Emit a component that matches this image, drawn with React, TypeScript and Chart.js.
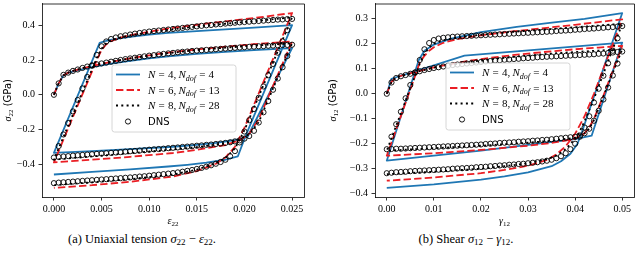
import React, { useEffect, useRef } from "react";
import { Chart, registerables } from "chart.js";

Chart.register(...registerables);

// ---------------- Uniaxial tension (sigma22 - eps22) ----------------
const TENSION_STRAIN_GRID = [0, 0.0005, 0.001, 0.0015, 0.002, 0.0025, 0.003, 0.0035, 0.004, 0.0045, 0.005, 0.0055, 0.006, 0.0065, 0.007, 0.0075, 0.008, 0.0085, 0.009, 0.0095, 0.01, 0.0105, 0.011, 0.0115, 0.012, 0.0125, 0.013, 0.0135, 0.014, 0.0145, 0.015, 0.0155, 0.016, 0.0165, 0.017, 0.0175, 0.018, 0.0185, 0.019, 0.0195, 0.02, 0.0205, 0.021, 0.0215, 0.022, 0.0225, 0.023, 0.0235, 0.024, 0.0245, 0.025];

// DNS stress, loading 1 (0 -> 0.025)
const DNS_T_LOAD1 = [0, 0.066, 0.115, 0.128, 0.138, 0.146, 0.155, 0.163, 0.17, 0.176, 0.181, 0.186, 0.191, 0.196, 0.201, 0.206, 0.21, 0.214, 0.218, 0.222, 0.226, 0.229, 0.233, 0.236, 0.239, 0.242, 0.245, 0.248, 0.25, 0.253, 0.255, 0.257, 0.259, 0.261, 0.263, 0.265, 0.267, 0.269, 0.271, 0.273, 0.275, 0.277, 0.278, 0.28, 0.281, 0.283, 0.284, 0.286, 0.287, 0.288, 0.289];
// DNS stress, unloading 1 (0.0245 -> 0)
const DNS_T_UNLOAD1 = [0.224, 0.159, 0.094, 0.029, -0.036, -0.101, -0.16, -0.208, -0.238, -0.253, -0.263, -0.269, -0.274, -0.278, -0.281, -0.284, -0.287, -0.289, -0.292, -0.294, -0.297, -0.299, -0.301, -0.304, -0.306, -0.308, -0.311, -0.313, -0.315, -0.317, -0.32, -0.322, -0.324, -0.326, -0.328, -0.331, -0.333, -0.335, -0.337, -0.339, -0.341, -0.343, -0.345, -0.347, -0.349, -0.351, -0.354, -0.356, -0.359, -0.362];
// DNS stress, reloading (0.0005 -> 0.025)
const DNS_T_LOAD2 = [-0.296, -0.229, -0.163, -0.096, -0.03, 0.037, 0.103, 0.168, 0.23, 0.28, 0.308, 0.322, 0.331, 0.338, 0.343, 0.348, 0.353, 0.357, 0.361, 0.365, 0.368, 0.371, 0.374, 0.377, 0.38, 0.383, 0.386, 0.389, 0.392, 0.395, 0.398, 0.401, 0.403, 0.406, 0.408, 0.411, 0.413, 0.416, 0.418, 0.42, 0.422, 0.424, 0.426, 0.428, 0.43, 0.432, 0.434, 0.435, 0.437, 0.438];
// DNS stress, unloading 2 (0.0245 -> 0)
const DNS_T_UNLOAD2 = [0.373, 0.308, 0.243, 0.178, 0.113, 0.048, -0.017, -0.082, -0.147, -0.212, -0.275, -0.325, -0.355, -0.375, -0.388, -0.398, -0.407, -0.415, -0.422, -0.428, -0.434, -0.439, -0.444, -0.448, -0.452, -0.455, -0.458, -0.461, -0.464, -0.467, -0.47, -0.472, -0.475, -0.477, -0.479, -0.481, -0.483, -0.485, -0.487, -0.489, -0.491, -0.493, -0.495, -0.497, -0.499, -0.501, -0.503, -0.505, -0.507, -0.51];

const N4_T_STRAIN = [0, 0.0005, 0.001, 0.0015, 0.002, 0.004, 0.006, 0.008, 0.01, 0.012, 0.015, 0.018, 0.021, 0.024, 0.025, 0.0203, 0.019, 0.017, 0.015, 0.0125, 0.008, 0.004, 0, 0.0048, 0.0055, 0.0065, 0.008, 0.01, 0.012, 0.015, 0.018, 0.021, 0.025, 0.0201, 0.0193, 0.018, 0.016, 0.014, 0.012, 0.008, 0.004, 0];
const N4_T_STRESS = [0, 0.066, 0.112, 0.127, 0.135, 0.16, 0.18, 0.196, 0.21, 0.222, 0.236, 0.248, 0.258, 0.266, 0.269, -0.245, -0.262, -0.278, -0.289, -0.3, -0.314, -0.325, -0.335, 0.3, 0.312, 0.323, 0.335, 0.347, 0.358, 0.368, 0.378, 0.388, 0.402, -0.24, -0.356, -0.375, -0.392, -0.404, -0.414, -0.43, -0.445, -0.46];

const N6_T_STRAIN = [0, 0.0005, 0.001, 0.0015, 0.002, 0.003, 0.004, 0.006, 0.008, 0.01, 0.012, 0.015, 0.018, 0.021, 0.024, 0.025, 0.0215, 0.0205, 0.0195, 0.018, 0.015, 0.0125, 0.008, 0.004, 0, 0.0045, 0.005, 0.0055, 0.006, 0.007, 0.008, 0.01, 0.012, 0.015, 0.018, 0.021, 0.025, 0.02, 0.019, 0.018, 0.017, 0.015, 0.0125, 0.008, 0.004, 0];
const N6_T_STRESS = [0, 0.066, 0.112, 0.128, 0.138, 0.153, 0.166, 0.19, 0.21, 0.228, 0.243, 0.262, 0.278, 0.292, 0.304, 0.308, -0.14, -0.225, -0.262, -0.29, -0.318, -0.336, -0.358, -0.375, -0.39, 0.2, 0.258, 0.292, 0.31, 0.33, 0.344, 0.364, 0.383, 0.404, 0.424, 0.443, 0.472, -0.19, -0.3, -0.362, -0.398, -0.44, -0.472, -0.502, -0.522, -0.537];

const N8_T_STRAIN = [0, 0.0005, 0.001, 0.0015, 0.002, 0.003, 0.004, 0.006, 0.008, 0.01, 0.012, 0.015, 0.018, 0.021, 0.024, 0.025, 0.0215, 0.0205, 0.0195, 0.018, 0.015, 0.0125, 0.008, 0.004, 0, 0.0045, 0.005, 0.0055, 0.006, 0.007, 0.008, 0.01, 0.012, 0.015, 0.018, 0.021, 0.025, 0.02, 0.019, 0.018, 0.017, 0.015, 0.0125, 0.008, 0.004, 0];
const N8_T_STRESS = [0, 0.066, 0.112, 0.128, 0.138, 0.154, 0.168, 0.191, 0.21, 0.226, 0.24, 0.258, 0.272, 0.284, 0.294, 0.297, -0.158, -0.228, -0.258, -0.28, -0.302, -0.316, -0.337, -0.356, -0.374, 0.212, 0.266, 0.297, 0.315, 0.332, 0.343, 0.36, 0.375, 0.394, 0.41, 0.425, 0.447, -0.204, -0.31, -0.365, -0.395, -0.432, -0.46, -0.487, -0.505, -0.522];

const TENSION_X_TICKS = [0, 0.005, 0.01, 0.015, 0.02, 0.025];
const TENSION_Y_TICKS = [-0.4, -0.2, 0, 0.2, 0.4];

// ---------------- Shear (sigma12 - gamma12) ----------------
const SHEAR_STRAIN_GRID = [0, 0.001, 0.002, 0.003, 0.004, 0.005, 0.006, 0.007, 0.008, 0.009, 0.01, 0.011, 0.012, 0.013, 0.014, 0.015, 0.016, 0.017, 0.018, 0.019, 0.02, 0.021, 0.022, 0.023, 0.024, 0.025, 0.026, 0.027, 0.028, 0.029, 0.03, 0.031, 0.032, 0.033, 0.034, 0.035, 0.036, 0.037, 0.038, 0.039, 0.04, 0.041, 0.042, 0.043, 0.044, 0.045, 0.046, 0.047, 0.048, 0.049, 0.05];

const DNS_S_LOAD1 = [0, 0.045, 0.063, 0.07, 0.075, 0.08, 0.085, 0.09, 0.095, 0.099, 0.103, 0.106, 0.109, 0.112, 0.115, 0.117, 0.119, 0.121, 0.123, 0.125, 0.127, 0.129, 0.131, 0.133, 0.134, 0.136, 0.137, 0.139, 0.14, 0.142, 0.143, 0.144, 0.146, 0.147, 0.148, 0.149, 0.15, 0.151, 0.152, 0.153, 0.154, 0.155, 0.156, 0.157, 0.158, 0.16, 0.161, 0.163, 0.165, 0.167, 0.169];
const DNS_S_UNLOAD1 = [0.121, 0.073, 0.025, -0.023, -0.068, -0.108, -0.14, -0.158, -0.167, -0.172, -0.174, -0.176, -0.178, -0.18, -0.182, -0.184, -0.185, -0.187, -0.188, -0.19, -0.191, -0.192, -0.194, -0.195, -0.196, -0.197, -0.199, -0.2, -0.201, -0.203, -0.204, -0.205, -0.206, -0.207, -0.208, -0.209, -0.21, -0.211, -0.212, -0.213, -0.214, -0.215, -0.216, -0.217, -0.218, -0.219, -0.22, -0.22, -0.221, -0.222];
const DNS_S_LOAD2 = [-0.172, -0.122, -0.072, -0.018, 0.035, 0.085, 0.135, 0.178, 0.203, 0.215, 0.221, 0.224, 0.226, 0.228, 0.229, 0.23, 0.231, 0.232, 0.233, 0.234, 0.235, 0.236, 0.237, 0.238, 0.239, 0.24, 0.241, 0.242, 0.243, 0.244, 0.245, 0.246, 0.247, 0.248, 0.249, 0.251, 0.252, 0.253, 0.254, 0.256, 0.257, 0.259, 0.26, 0.261, 0.263, 0.264, 0.266, 0.267, 0.269, 0.271];
const DNS_S_UNLOAD2 = [0.222, 0.172, 0.122, 0.072, 0.02, -0.035, -0.09, -0.135, -0.172, -0.2, -0.222, -0.238, -0.25, -0.258, -0.264, -0.268, -0.271, -0.274, -0.276, -0.278, -0.28, -0.281, -0.283, -0.284, -0.286, -0.287, -0.289, -0.29, -0.292, -0.293, -0.294, -0.296, -0.297, -0.298, -0.299, -0.3, -0.302, -0.303, -0.304, -0.305, -0.306, -0.307, -0.308, -0.309, -0.31, -0.312, -0.313, -0.314, -0.316, -0.318];

const N4_S_STRAIN = [0, 0.001, 0.0165, 0.05, 0.0435, 0.04, 0.03, 0.02, 0.01, 0, 0.0068, 0.008, 0.01, 0.0137, 0.02, 0.0276, 0.0346, 0.042, 0.05, 0.0415, 0.0405, 0.039, 0.037, 0.035, 0.03, 0.025, 0.02, 0.01, 0];
const N4_S_STRESS = [0, 0.06, 0.153, 0.205, -0.168, -0.182, -0.205, -0.228, -0.248, -0.268, 0.135, 0.172, 0.197, 0.221, 0.247, 0.268, 0.284, 0.3, 0.323, -0.15, -0.2, -0.24, -0.27, -0.29, -0.315, -0.331, -0.344, -0.363, -0.377];

const N6_S_STRAIN = [0, 0.001, 0.002, 0.004, 0.007, 0.01, 0.015, 0.02, 0.025, 0.03, 0.035, 0.04, 0.045, 0.05, 0.046, 0.044, 0.043, 0.042, 0.04, 0.035, 0.03, 0.02, 0.01, 0, 0.006, 0.007, 0.008, 0.009, 0.01, 0.012, 0.015, 0.02, 0.025, 0.03, 0.035, 0.04, 0.045, 0.05, 0.046, 0.044, 0.042, 0.04, 0.038, 0.036, 0.034, 0.03, 0.025, 0.02, 0.01, 0];
const N6_S_STRESS = [0, 0.048, 0.066, 0.077, 0.092, 0.106, 0.124, 0.139, 0.151, 0.161, 0.17, 0.178, 0.185, 0.192, -0.008, -0.1, -0.135, -0.158, -0.18, -0.197, -0.208, -0.225, -0.238, -0.248, 0.07, 0.125, 0.152, 0.172, 0.186, 0.204, 0.219, 0.234, 0.246, 0.256, 0.266, 0.276, 0.287, 0.298, 0.1, 0, -0.09, -0.16, -0.21, -0.243, -0.265, -0.288, -0.305, -0.318, -0.335, -0.348];

const N8_S_STRAIN = [0, 0.001, 0.002, 0.004, 0.007, 0.01, 0.015, 0.02, 0.025, 0.03, 0.035, 0.04, 0.045, 0.05, 0.046, 0.044, 0.043, 0.042, 0.04, 0.035, 0.03, 0.02, 0.01, 0, 0.005, 0.006, 0.007, 0.008, 0.009, 0.01, 0.012, 0.015, 0.02, 0.025, 0.03, 0.035, 0.04, 0.045, 0.05, 0.046, 0.044, 0.042, 0.041, 0.04, 0.038, 0.036, 0.034, 0.03, 0.025, 0.02, 0.01, 0];
const N8_S_STRESS = [0, 0.047, 0.065, 0.076, 0.091, 0.104, 0.12, 0.133, 0.144, 0.153, 0.161, 0.167, 0.173, 0.178, -0.01, -0.105, -0.14, -0.158, -0.176, -0.188, -0.196, -0.208, -0.218, -0.228, 0.022, 0.07, 0.12, 0.16, 0.185, 0.2, 0.214, 0.225, 0.236, 0.245, 0.252, 0.259, 0.266, 0.273, 0.28, 0.08, -0.02, -0.11, -0.15, -0.18, -0.222, -0.248, -0.262, -0.278, -0.29, -0.3, -0.312, -0.322];

const SHEAR_X_TICKS = [0, 0.01, 0.02, 0.03, 0.04, 0.05];
const SHEAR_Y_TICKS = [-0.4, -0.3, -0.2, -0.1, 0, 0.1, 0.2, 0.3];

// legend labels
const LEGEND_N = ["4", "6", "8"];
const LEGEND_NDOF = ["4", "13", "28"];

// ---------------- styling ----------------
const SERIF = '"Liberation Serif", "DejaVu Serif", serif';
const SANS = '"DejaVu Sans", sans-serif';
const BLUE = "#1f77b4";
const RED = "#ea1e24";
const BLACK = "#000000";

type Pt = { x: number; y: number };
type Run = { t: string; f: string; dy?: number; gap?: number };

function zipPts(xs: number[], ys: number[]): Pt[] {
  return xs.map((x, i) => ({ x, y: ys[i] }));
}

function loopPath(grid: number[], a: number[], b: number[], c: number[], d: number[]): Pt[] {
  const n = grid.length;
  const pts: Pt[] = [];
  a.forEach((y, i) => pts.push({ x: grid[i], y }));
  b.forEach((y, i) => pts.push({ x: grid[n - 2 - i], y }));
  c.forEach((y, i) => pts.push({ x: grid[i + 1], y }));
  d.forEach((y, i) => pts.push({ x: grid[n - 2 - i], y }));
  return pts;
}

function runsWidth(ctx: CanvasRenderingContext2D, runs: Run[]) {
  let w = 0;
  for (const r of runs) {
    ctx.font = r.f;
    w += ctx.measureText(r.t).width + (r.gap || 0);
  }
  return w;
}

function drawRuns(ctx: CanvasRenderingContext2D, runs: Run[], x: number, y: number, align: "left" | "center") {
  const w = runsWidth(ctx, runs);
  let cx = align === "center" ? x - w / 2 : x;
  ctx.textAlign = "left";
  ctx.textBaseline = "alphabetic";
  for (const r of runs) {
    ctx.font = r.f;
    if (r.t) ctx.fillText(r.t, cx, y + (r.dy || 0));
    cx += ctx.measureText(r.t).width + (r.gap || 0);
  }
}

const F_IT = `italic 10px ${SERIF}`;
const F_SUB = `7px ${SERIF}`;
const L_IT = `italic 11px ${SERIF}`;
const L_RM = `11px ${SERIF}`;
const L_SUB_IT = `italic 8px ${SERIF}`;
const G = 3.2;

function legendRuns(i: number): Run[] {
  return [
    { t: "N", f: L_IT, gap: G },
    { t: "=", f: L_RM, gap: G },
    { t: `${LEGEND_N[i]},`, f: L_RM, gap: 2.2 },
    { t: "N", f: L_IT },
    { t: "dof", f: L_SUB_IT, dy: 2.2, gap: G },
    { t: "=", f: L_RM, gap: G },
    { t: LEGEND_NDOF[i], f: L_RM },
  ];
}

interface PanelSpec {
  width: number;
  height: number;
  plotLeft: number;
  plotRight: number;
  plotTop: number;
  plotBottom: number;
  xMin: number;
  xMax: number;
  yMin: number;
  yMax: number;
  xTicks: number[];
  yTicks: number[];
  xDec: number;
  yDec: number;
  lines: { pts: Pt[]; color: string; dash: number[] }[];
  dns: Pt[];
  xLabel: Run[];
  yLabel: Run[];
  yLabelX: number;
  legendX: number;
  legendY: number;
}

function fmt(v: number, dec: number) {
  const s = Math.abs(v).toFixed(dec);
  return v < -1e-12 ? "\u2212" + s : s;
}

function Panel({ spec, left }: { spec: PanelSpec; left: number }) {
  const ref = useRef<HTMLCanvasElement | null>(null);
  useEffect(() => {
    const canvas = ref.current;
    if (!canvas) return;
    const decor = {
      id: "decor",
      afterDatasetsDraw(chart: any) {
        const ctx: CanvasRenderingContext2D = chart.ctx;
        const a = chart.chartArea;
        ctx.save();
        // top + right spines
        ctx.strokeStyle = "#000";
        ctx.lineWidth = 0.8;
        ctx.beginPath();
        ctx.moveTo(a.left, a.top + 0.5);
        ctx.lineTo(a.right + 0.5, a.top + 0.5);
        ctx.lineTo(a.right + 0.5, a.bottom);
        ctx.stroke();
        // legend
        const lx = spec.legendX;
        const ly = spec.legendY;
        const lw = 124;
        const lh = 67;
        ctx.beginPath();
        const r = 2.5;
        ctx.moveTo(lx + r, ly);
        ctx.lineTo(lx + lw - r, ly);
        ctx.arcTo(lx + lw, ly, lx + lw, ly + r, r);
        ctx.lineTo(lx + lw, ly + lh - r);
        ctx.arcTo(lx + lw, ly + lh, lx + lw - r, ly + lh, r);
        ctx.lineTo(lx + r, ly + lh);
        ctx.arcTo(lx, ly + lh, lx, ly + lh - r, r);
        ctx.lineTo(lx, ly + r);
        ctx.arcTo(lx, ly, lx + r, ly, r);
        ctx.closePath();
        ctx.fillStyle = "rgba(255,255,255,0.8)";
        ctx.fill();
        ctx.strokeStyle = "#cccccc";
        ctx.lineWidth = 0.8;
        ctx.stroke();
        const rows = [9.5, 25, 40.5, 56.5];
        const styles = [
          { c: BLUE, d: [] as number[] },
          { c: RED, d: [7.4, 3.2] },
          { c: BLACK, d: [2, 3.3] },
        ];
        for (let i = 0; i < 3; i++) {
          const y = ly + rows[i];
          ctx.strokeStyle = styles[i].c;
          ctx.lineWidth = 1.8;
          ctx.setLineDash(styles[i].d);
          ctx.beginPath();
          ctx.moveTo(lx + 4, y);
          ctx.lineTo(lx + 28, y);
          ctx.stroke();
          ctx.setLineDash([]);
          ctx.fillStyle = "#000";
          drawRuns(ctx, legendRuns(i), lx + 36, y + 3.8, "left");
        }
        const yd = ly + rows[3];
        ctx.beginPath();
        ctx.arc(lx + 16, yd, 2.6, 0, Math.PI * 2);
        ctx.strokeStyle = "#000";
        ctx.lineWidth = 0.9;
        ctx.stroke();
        ctx.fillStyle = "#000";
        drawRuns(ctx, [{ t: "DNS", f: `10px ${SANS}` }], lx + 36, yd + 3.7, "left");
        // axis titles
        drawRuns(ctx, spec.xLabel, (a.left + a.right) / 2, spec.plotBottom + 27, "center");
        ctx.translate(spec.yLabelX, (a.top + a.bottom) / 2);
        ctx.rotate(-Math.PI / 2);
        drawRuns(ctx, spec.yLabel, 0, 0, "center");
        ctx.restore();
      },
    };

    const datasets: any[] = [];
    datasets.push({
      data: spec.dns,
      showLine: false,
      pointRadius: 2.6,
      pointHoverRadius: 2.6,
      pointStyle: "circle",
      borderColor: "#000",
      backgroundColor: "rgba(0,0,0,0)",
      pointBorderColor: "#000",
      pointBackgroundColor: "rgba(0,0,0,0)",
      borderWidth: 0.9,
      pointBorderWidth: 0.9,
      order: 0,
    });
    spec.lines.forEach((l, i) => {
      datasets.push({
        data: l.pts,
        showLine: true,
        borderColor: l.color,
        backgroundColor: l.color,
        borderWidth: 1.8,
        borderDash: l.dash,
        borderCapStyle: "butt",
        borderJoinStyle: "round",
        pointRadius: 0,
        pointHoverRadius: 0,
        tension: 0,
        fill: false,
        order: 3 - i,
      });
    });

    const tickFont = { family: SERIF, size: 10 };
    const chart = new Chart(canvas, {
      type: "scatter",
      data: { datasets },
      options: {
        responsive: false,
        animation: false,
        devicePixelRatio: 1,
        events: [],
        layout: { padding: { left: 0, top: spec.plotTop, right: spec.width - spec.plotRight, bottom: 0 } },
        plugins: { legend: { display: false }, tooltip: { enabled: false } },
        scales: {
          x: {
            type: "linear",
            min: spec.xMin,
            max: spec.xMax,
            afterBuildTicks: (s: any) => {
              s.ticks = spec.xTicks.map((v) => ({ value: v }));
            },
            afterFit: (s: any) => {
              s.height = spec.height - spec.plotBottom;
              s.paddingLeft = 0;
              s.paddingRight = 0;
            },
            ticks: {
              callback: (v: any) => fmt(Number(v), spec.xDec),
              font: tickFont,
              color: "#000",
              padding: 3,
              maxRotation: 0,
              autoSkip: false,
            },
            grid: { drawOnChartArea: false, drawTicks: true, tickLength: 3.5, color: "#000", lineWidth: 0.8 },
            border: { display: true, color: "#000", width: 0.8 },
          },
          y: {
            type: "linear",
            min: spec.yMin,
            max: spec.yMax,
            afterBuildTicks: (s: any) => {
              s.ticks = spec.yTicks.map((v) => ({ value: v }));
            },
            afterFit: (s: any) => {
              s.width = spec.plotLeft;
              s.paddingTop = 0;
              s.paddingBottom = 0;
            },
            ticks: {
              callback: (v: any) => fmt(Number(v), spec.yDec),
              font: tickFont,
              color: "#000",
              padding: 3.5,
              autoSkip: false,
            },
            grid: { drawOnChartArea: false, drawTicks: true, tickLength: 3.5, color: "#000", lineWidth: 0.8 },
            border: { display: true, color: "#000", width: 0.8 },
          },
        },
      } as any,
      plugins: [decor],
    });
    return () => chart.destroy();
  }, [spec]);
  return (
    <canvas
      ref={ref}
      width={spec.width}
      height={spec.height}
      style={{ position: "absolute", left, top: 0, width: spec.width, height: spec.height }}
    />
  );
}

const tensionSpec: PanelSpec = {
  width: 320,
  height: 230,
  plotLeft: 42,
  plotRight: 304,
  plotTop: 1,
  plotBottom: 197,
  xMin: -0.00125,
  xMax: 0.02625,
  yMin: -0.59,
  yMax: 0.527,
  xTicks: TENSION_X_TICKS,
  yTicks: TENSION_Y_TICKS,
  xDec: 3,
  yDec: 1,
  lines: [
    { pts: zipPts(N4_T_STRAIN, N4_T_STRESS), color: BLUE, dash: [] },
    { pts: zipPts(N6_T_STRAIN, N6_T_STRESS), color: RED, dash: [7.4, 3.2] },
    { pts: zipPts(N8_T_STRAIN, N8_T_STRESS), color: BLACK, dash: [2, 3.3] },
  ],
  dns: loopPath(TENSION_STRAIN_GRID, DNS_T_LOAD1, DNS_T_UNLOAD1, DNS_T_LOAD2, DNS_T_UNLOAD2),
  xLabel: [
    { t: "\u03b5", f: F_IT },
    { t: "22", f: F_SUB, dy: 2 },
  ],
  yLabel: [
    { t: "\u03c3", f: F_IT },
    { t: "22", f: F_SUB, dy: 2 },
    { t: " (GPa)", f: `10px ${SANS}` },
  ],
  yLabelX: 10.5,
  legendX: 112,
  legendY: 65,
};

const shearSpec: PanelSpec = {
  width: 320,
  height: 230,
  plotLeft: 55,
  plotRight: 314,
  plotTop: 1,
  plotBottom: 197,
  xMin: -0.0025,
  xMax: 0.0525,
  yMin: -0.4132,
  yMax: 0.3612,
  xTicks: SHEAR_X_TICKS,
  yTicks: SHEAR_Y_TICKS,
  xDec: 2,
  yDec: 1,
  lines: [
    { pts: zipPts(N4_S_STRAIN, N4_S_STRESS), color: BLUE, dash: [] },
    { pts: zipPts(N6_S_STRAIN, N6_S_STRESS), color: RED, dash: [7.4, 3.2] },
    { pts: zipPts(N8_S_STRAIN, N8_S_STRESS), color: BLACK, dash: [2, 3.3] },
  ],
  dns: loopPath(SHEAR_STRAIN_GRID, DNS_S_LOAD1, DNS_S_UNLOAD1, DNS_S_LOAD2, DNS_S_UNLOAD2),
  xLabel: [
    { t: "\u03b3", f: F_IT },
    { t: "12", f: F_SUB, dy: 2 },
  ],
  yLabel: [
    { t: "\u03c3", f: F_IT },
    { t: "12", f: F_SUB, dy: 2 },
    { t: " (GPa)", f: `10px ${SANS}` },
  ],
  yLabelX: 15.5,
  legendX: 126,
  legendY: 63,
};

const capStyle: React.CSSProperties = {
  position: "absolute",
  top: 232,
  fontFamily: SERIF,
  fontSize: 12.5,
  lineHeight: "15px",
  textAlign: "center",
  color: "#000",
  whiteSpace: "nowrap",
};
const subStyle: React.CSSProperties = { fontSize: 9, verticalAlign: "-2px", lineHeight: 0 };

export default function App() {
  return (
    <div style={{ position: "absolute", left: 0, top: 0, width: 640, height: 255, background: "#fff", overflow: "hidden" }}>
      <Panel spec={tensionSpec} left={0} />
      <Panel spec={shearSpec} left={320} />
      <div style={{ ...capStyle, left: 0, width: 284 }}>
        (a) Uniaxial tension <i>σ</i>
        <span style={subStyle}>22</span> − <i>ε</i>
        <span style={subStyle}>22</span>.
      </div>
      <div style={{ ...capStyle, left: 346, width: 240 }}>
        (b) Shear <i>σ</i>
        <span style={subStyle}>12</span> − <i>γ</i>
        <span style={subStyle}>12</span>.
      </div>
    </div>
  );
}
